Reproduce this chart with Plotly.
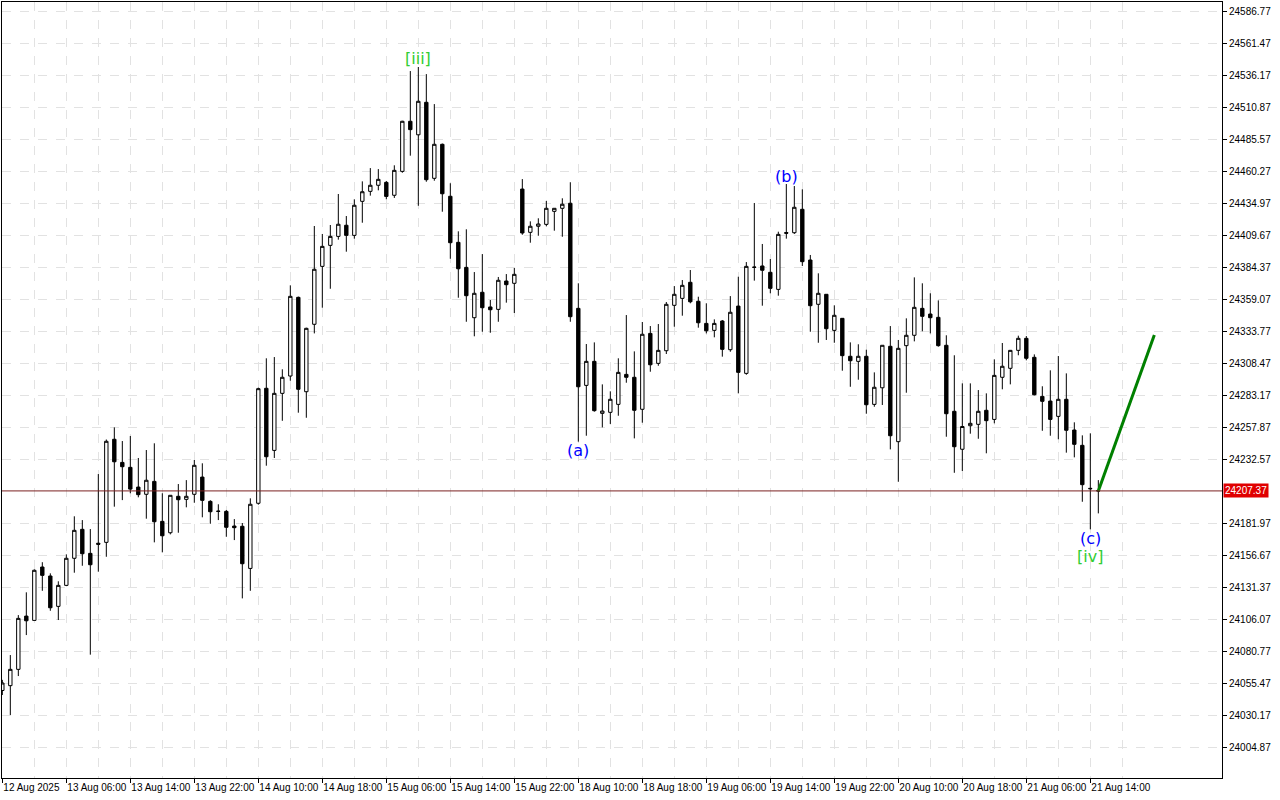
import plotly.graph_objects as go

# hourly candles, index 0..137 (12 Aug 2025 -> 21 Aug 15:00)
opens = [24049.6, 24053.4, 24066.3, 24108.4, 24105.0, 24147.2, 24140.1, 24116.1, 24132.7, 24154.1,
         24177.0, 24158.0, 24166.0, 24166.7, 24248.2, 24229.9, 24226.0, 24210.4, 24204.7, 24214.9,
         24183.3, 24174.3, 24203.1, 24200.7, 24204.7, 24218.3, 24199.1, 24191.4, 24191.2, 24179.6,
         24179.4, 24146.1, 24197.6, 24288.5, 24239.4, 24284.5, 24298.2, 24360.4, 24285.8, 24339.1,
         24384.9, 24401.5, 24408.6, 24417.4, 24409.4, 24436.3, 24444.2, 24449.0, 24451.3, 24441.1,
         24460.0, 24499.6, 24488.9, 24514.6, 24454.5, 24481.4, 24440.3, 24403.9, 24384.1, 24344.3,
         24364.4, 24352.8, 24350.9, 24373.3, 24371.5, 24446.0, 24411.8, 24416.6, 24418.1, 24428.4,
         24430.8, 24434.8, 24351.7, 24290.8, 24309.8, 24268.7, 24269.5, 24275.8, 24299.5, 24297.2,
         24271.9, 24331.9, 24308.2, 24318.2, 24354.1, 24359.6, 24372.3, 24357.3, 24339.8, 24334.3,
         24341.7, 24319.0, 24353.5, 24300.3, 24384.4, 24385.2, 24380.2, 24366.7, 24411.6, 24411.5,
         24430.0, 24389.9, 24354.9, 24362.8, 24334.3, 24343.8, 24313.8, 24309.8, 24313.8, 24275.8,
         24288.9, 24321.7, 24246.3, 24322.2, 24330.4, 24351.7, 24347.2, 24344.6, 24322.5, 24270.3,
         24240.3, 24258.9, 24260.0, 24271.1, 24263.9, 24297.2, 24304.3, 24318.5, 24328.0, 24313.0,
         24282.1, 24278.4, 24266.3, 24279.8, 24255.5, 24243.4, 24209.4, 24207.6]
highs = [24058.0, 24077.6, 24109.2, 24127.2, 24145.4, 24151.0, 24142.2, 24135.9, 24157.2, 24187.3,
         24184.3, 24177.2, 24220.7, 24248.0, 24257.6, 24246.8, 24250.8, 24233.4, 24239.7, 24245.0,
         24205.5, 24204.1, 24212.8, 24215.9, 24231.8, 24229.2, 24200.0, 24196.8, 24192.3, 24185.1,
         24182.0, 24201.5, 24289.0, 24312.2, 24313.2, 24303.5, 24369.9, 24361.0, 24336.4, 24416.8,
         24410.5, 24417.6, 24442.1, 24424.7, 24437.9, 24452.1, 24462.6, 24461.8, 24452.4, 24464.8,
         24500.0, 24539.3, 24542.5, 24536.9, 24513.2, 24482.0, 24450.6, 24412.6, 24414.2, 24380.4,
         24394.6, 24358.3, 24376.5, 24378.8, 24383.6, 24453.9, 24420.5, 24422.9, 24436.6, 24431.0,
         24438.7, 24451.4, 24371.5, 24323.5, 24324.8, 24291.6, 24286.1, 24312.2, 24346.4, 24317.7,
         24340.9, 24337.7, 24339.3, 24356.7, 24369.3, 24374.1, 24382.0, 24360.9, 24355.7, 24343.0,
         24342.5, 24361.4, 24376.7, 24388.3, 24435.0, 24402.6, 24390.7, 24412.3, 24450.0, 24448.4,
         24445.8, 24393.9, 24379.4, 24363.0, 24354.1, 24344.0, 24324.8, 24323.3, 24319.0, 24301.1,
         24322.7, 24337.7, 24326.7, 24343.8, 24376.2, 24371.5, 24363.6, 24358.0, 24330.4, 24314.6,
         24292.4, 24292.4, 24287.1, 24284.5, 24311.4, 24324.3, 24318.8, 24330.1, 24329.8, 24315.3,
         24290.1, 24302.7, 24314.0, 24300.3, 24261.6, 24251.3, 24252.9, 24215.9]
lows = [24046.0, 24030.2, 24061.0, 24093.4, 24104.9, 24128.4, 24112.6, 24105.3, 24132.2, 24142.7,
        24148.2, 24077.9, 24143.5, 24155.3, 24194.9, 24200.1, 24205.5, 24202.3, 24185.4, 24166.7,
        24158.8, 24173.0, 24174.3, 24194.4, 24198.0, 24186.5, 24181.4, 24184.3, 24171.1, 24168.5,
        24122.4, 24128.4, 24196.5, 24227.3, 24233.4, 24262.8, 24294.5, 24269.2, 24265.2, 24331.9,
        24352.2, 24367.2, 24406.0, 24396.5, 24406.8, 24419.4, 24440.8, 24445.0, 24437.9, 24439.0,
        24458.9, 24472.4, 24432.8, 24451.8, 24452.6, 24428.1, 24390.9, 24360.1, 24341.1, 24329.6,
        24333.2, 24332.4, 24341.1, 24356.2, 24348.0, 24409.9, 24403.6, 24409.1, 24416.6, 24413.1,
        24408.3, 24341.1, 24246.3, 24251.0, 24270.0, 24257.6, 24260.3, 24266.8, 24292.9, 24248.9,
        24261.3, 24301.6, 24306.3, 24315.6, 24337.2, 24345.9, 24355.7, 24336.4, 24331.9, 24328.8,
        24313.5, 24317.4, 24284.5, 24299.2, 24373.6, 24353.8, 24363.6, 24361.7, 24406.8, 24410.5,
        24385.2, 24333.2, 24324.5, 24326.7, 24324.5, 24302.4, 24289.7, 24295.3, 24268.4, 24273.9,
        24275.3, 24240.2, 24214.6, 24285.0, 24325.6, 24333.6, 24331.9, 24321.4, 24250.2, 24221.7,
        24223.1, 24252.6, 24248.6, 24237.1, 24260.8, 24287.7, 24291.6, 24314.6, 24310.6, 24282.9,
        24254.9, 24251.0, 24248.2, 24237.6, 24233.9, 24198.8, 24177.0, 24189.6]
closes = [24055.5, 24066.3, 24106.6, 24104.7, 24144.6, 24140.6, 24115.0, 24132.7, 24154.1, 24176.2,
          24157.7, 24149.0, 24165.2, 24246.6, 24230.4, 24226.5, 24208.8, 24204.4, 24215.8, 24183.0,
          24171.9, 24203.9, 24200.4, 24203.1, 24227.6, 24199.9, 24190.9, 24191.2, 24178.6, 24178.3,
          24149.8, 24196.8, 24288.2, 24234.4, 24284.5, 24297.2, 24361.2, 24287.7, 24335.9, 24382.6,
          24400.7, 24408.6, 24418.2, 24409.4, 24433.2, 24443.9, 24449.0, 24453.7, 24440.2, 24460.8,
          24499.6, 24493.0, 24515.4, 24453.4, 24481.4, 24442.3, 24403.6, 24383.0, 24361.7, 24363.6,
          24352.2, 24350.6, 24373.9, 24370.4, 24378.6, 24411.3, 24416.6, 24418.4, 24430.8, 24430.8,
          24434.0, 24345.1, 24289.7, 24309.8, 24270.8, 24270.5, 24279.8, 24301.1, 24297.2, 24271.1,
          24331.2, 24307.1, 24318.5, 24354.9, 24362.8, 24369.9, 24356.9, 24340.3, 24334.0, 24339.8,
          24319.3, 24348.6, 24301.1, 24384.9, 24384.1, 24381.8, 24367.5, 24410.2, 24411.1, 24431.6,
          24388.6, 24353.8, 24363.6, 24335.6, 24346.2, 24314.3, 24310.3, 24313.8, 24275.5, 24289.3,
          24322.5, 24251.0, 24320.1, 24330.4, 24352.5, 24345.4, 24344.3, 24322.2, 24268.4, 24242.3,
          24258.3, 24260.8, 24270.3, 24262.9, 24298.7, 24305.9, 24318.5, 24328.0, 24312.2, 24283.4,
          24278.2, 24263.9, 24279.8, 24255.3, 24244.2, 24212.3, 24209.1, 24207.37]
bars = list(range(len(closes)))

time_labels = ["12 Aug 2025", "13 Aug 06:00", "13 Aug 14:00", "13 Aug 22:00", "14 Aug 10:00",
               "14 Aug 18:00", "15 Aug 06:00", "15 Aug 14:00", "15 Aug 22:00", "18 Aug 10:00",
               "18 Aug 18:00", "19 Aug 06:00", "19 Aug 14:00", "19 Aug 22:00", "20 Aug 10:00",
               "20 Aug 18:00", "21 Aug 06:00", "21 Aug 14:00"]
time_ticks = [i * 8 for i in range(len(time_labels))]

price_ticks = [24586.77, 24561.47, 24536.17, 24510.87, 24485.57, 24460.27, 24434.97, 24409.67,
               24384.37, 24359.07, 24333.77, 24308.47, 24283.17, 24257.87, 24232.57, 24181.97,
               24156.67, 24131.37, 24106.07, 24080.77, 24055.47, 24030.17, 24004.87]
last_price = 24207.37

# elliott wave marks
wave_text = ["[iii]", "(a)", "(b)", "(c)", "[iv]"]
wave_x = [52, 72, 98, 136, 136]
wave_y = [24549.6, 24239.7, 24456.3, 24170.1, 24155.9]
wave_color = ["#32CD32", "#0000FF", "#0000FF", "#0000FF", "#32CD32"]

# forecast arrow
fc_x = [137, 144]
fc_y = [24207.37, 24330.6]

fig = go.Figure()
fig.add_trace(go.Candlestick(
    x=bars, open=opens, high=highs, low=lows, close=closes,
    increasing=dict(fillcolor="white", line=dict(color="black", width=1)),
    decreasing=dict(fillcolor="black", line=dict(color="black", width=1)),
    whiskerwidth=0, hoverinfo="skip"
))
fig.add_trace(go.Scatter(x=fc_x, y=fc_y, mode="lines",
                         line=dict(color="#008000", width=3), hoverinfo="skip"))

fig.add_shape(type="line", xref="paper", x0=0, x1=1, yref="y", y0=last_price, y1=last_price,
              line=dict(color="#7a2020", width=1))

for t, x, y, c in zip(wave_text, wave_x, wave_y, wave_color):
    fig.add_annotation(x=x, y=y, text=t, showarrow=False,
                       font=dict(family="DejaVu Sans", size=16, color=c))

fig.add_annotation(xref="paper", x=1, xanchor="left", xshift=1, y=last_price,
                   text=f"{last_price:.2f}", showarrow=False, bgcolor="#e00000",
                   font=dict(family="Liberation Sans", size=10, color="white"),
                   borderpad=1)

fig.update_xaxes(
    range=[-0.04, 152.46], tickvals=time_ticks, ticktext=time_labels, tickangle=0,
    ticks="outside", ticklen=4, tickcolor="black", ticklabelposition="outside right",
    showgrid=True, gridcolor="#e2e2e2", griddash="dash", gridwidth=1,
    minor=dict(tickvals=[v + 4 for v in time_ticks], showgrid=True,
               gridcolor="#e2e2e2", griddash="dash", ticks=""),
    showline=True, linecolor="black", linewidth=1, mirror=True,
    rangeslider_visible=False, zeroline=False,
    tickfont=dict(family="Liberation Sans", size=10, color="black")
)
fig.update_yaxes(
    side="right", range=[23980.4, 24593.9], tickvals=price_ticks,
    ticktext=[f"{v:.2f}" for v in price_ticks],
    ticks="outside", ticklen=4, tickcolor="black",
    showgrid=True, gridcolor="#e2e2e2", griddash="dash", gridwidth=1,
    showline=True, linecolor="black", linewidth=1, mirror=True, zeroline=False,
    tickfont=dict(family="Liberation Sans", size=10, color="black")
)
fig.update_layout(
    width=1280, height=800, margin=dict(l=2, r=58, t=2, b=22),
    plot_bgcolor="white", paper_bgcolor="white", showlegend=False, boxgap=0.4
)
fig.write_html("out.html", config={"displayModeBar": False},
               post_script="document.body.style.margin='0px';")
